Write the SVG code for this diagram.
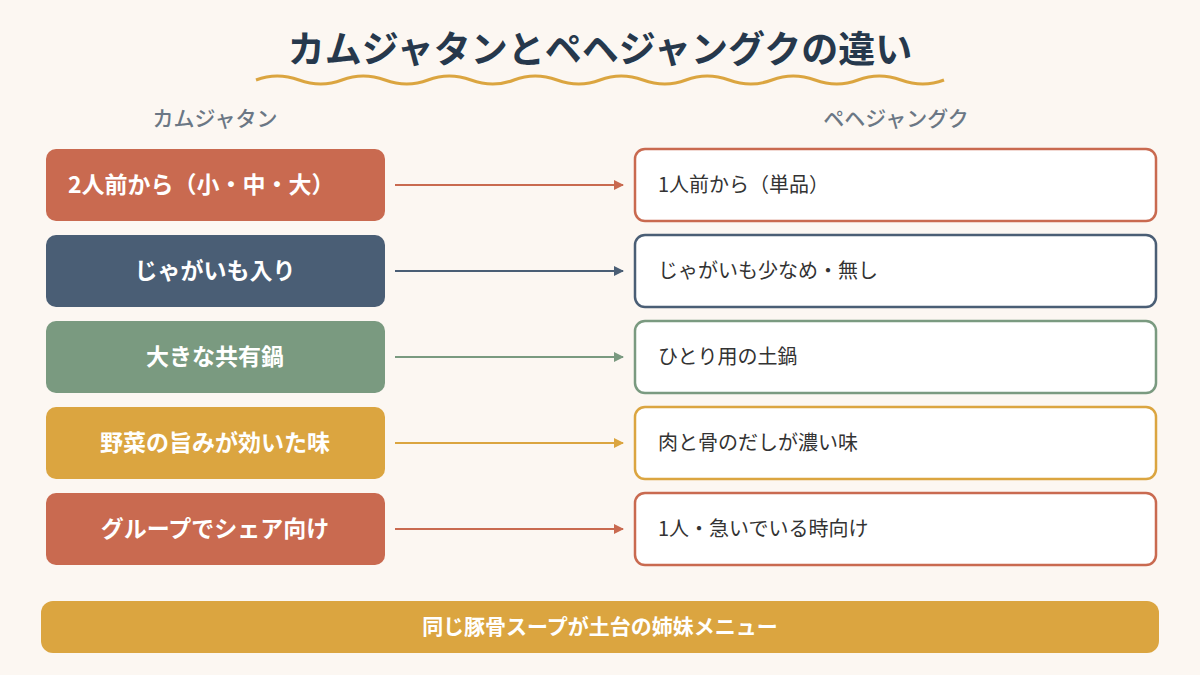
<svg xmlns="http://www.w3.org/2000/svg" width="1200" height="675" viewBox="0 0 1200 675">
<style>
text{font-family:"Noto Sans CJK JP","Noto Sans",sans-serif}
.t{font-size:37px;font-weight:700;fill:#26384c}
.h{font-size:21px;fill:#6b7785;font-weight:500}
.l{font-size:23px;font-weight:700;fill:#fff}
.r{font-size:20px;fill:#333}
.c{stroke-width:2;fill:none}
</style>
<defs>
<marker id="a1" markerWidth="10" markerHeight="10" refX="9" refY="5" orient="auto" markerUnits="userSpaceOnUse"><path d="M0,0 L10,5 L0,10Z" fill="#C96A50"/></marker>
<marker id="a2" markerWidth="10" markerHeight="10" refX="9" refY="5" orient="auto" markerUnits="userSpaceOnUse"><path d="M0,0 L10,5 L0,10Z" fill="#4A5E75"/></marker>
<marker id="a3" markerWidth="10" markerHeight="10" refX="9" refY="5" orient="auto" markerUnits="userSpaceOnUse"><path d="M0,0 L10,5 L0,10Z" fill="#7A9A80"/></marker>
<marker id="a4" markerWidth="10" markerHeight="10" refX="9" refY="5" orient="auto" markerUnits="userSpaceOnUse"><path d="M0,0 L10,5 L0,10Z" fill="#DBA540"/></marker>
</defs>
<rect width="1200" height="675" fill="#FCF7F2"/>
<text class="t" x="600" y="63" text-anchor="middle">カムジャタンとペヘジャングクの違い</text>
<path d="M256,80 q21,-8 43,0 t43,0 t43,0 t43,0 t43,0 t43,0 t43,0 t43,0 t43,0 t43,0 t43,0 t43,0 t43,0 t43,0 t43,0 t43,0" stroke="#DBA540" stroke-width="3" fill="none"/>
<text class="h" x="215" y="126" text-anchor="middle">カムジャタン</text>
<text class="h" x="896" y="126" text-anchor="middle">ペヘジャングク</text>
<g id="connectors">
<line class="c" x1="395" y1="185" x2="623" y2="185" stroke="#C96A50" marker-end="url(#a1)"/>
<line class="c" x1="395" y1="271" x2="623" y2="271" stroke="#4A5E75" marker-end="url(#a2)"/>
<line class="c" x1="395" y1="357" x2="623" y2="357" stroke="#7A9A80" marker-end="url(#a3)"/>
<line class="c" x1="395" y1="443" x2="623" y2="443" stroke="#DBA540" marker-end="url(#a4)"/>
<line class="c" x1="395" y1="529" x2="623" y2="529" stroke="#C96A50" marker-end="url(#a1)"/>
</g>
<g id="l1"><rect x="46" y="149" width="339" height="72" rx="10" fill="#C96A50"/><text class="l" x="68" y="193">2人前から（小・中・大）</text></g>
<g id="l2"><rect x="46" y="235" width="339" height="72" rx="10" fill="#4A5E75"/><text class="l" x="215" y="279" text-anchor="middle">じゃがいも入り</text></g>
<g id="l3"><rect x="46" y="321" width="339" height="72" rx="10" fill="#7A9A80"/><text class="l" x="215" y="365" text-anchor="middle">大きな共有鍋</text></g>
<g id="l4"><rect x="46" y="407" width="339" height="72" rx="10" fill="#DBA540"/><text class="l" x="215" y="451" text-anchor="middle">野菜の旨みが効いた味</text></g>
<g id="l5"><rect x="46" y="493" width="339" height="72" rx="10" fill="#C96A50"/><text class="l" x="215" y="537" text-anchor="middle">グループでシェア向け</text></g>
<g id="r1"><rect x="635" y="149" width="521" height="72" rx="10" fill="#fff" stroke="#C96A50" stroke-width="2.5"/><text class="r" x="658" y="192">1人前から（単品）</text></g>
<g id="r2"><rect x="635" y="235" width="521" height="72" rx="10" fill="#fff" stroke="#4A5E75" stroke-width="2.5"/><text class="r" x="658" y="278">じゃがいも少なめ・無し</text></g>
<g id="r3"><rect x="635" y="321" width="521" height="72" rx="10" fill="#fff" stroke="#7A9A80" stroke-width="2.5"/><text class="r" x="658" y="364">ひとり用の土鍋</text></g>
<g id="r4"><rect x="635" y="407" width="521" height="72" rx="10" fill="#fff" stroke="#DBA540" stroke-width="2.5"/><text class="r" x="658" y="450">肉と骨のだしが濃い味</text></g>
<g id="r5"><rect x="635" y="493" width="521" height="72" rx="10" fill="#fff" stroke="#C96A50" stroke-width="2.5"/><text class="r" x="658" y="536">1人・急いでいる時向け</text></g>
<g id="bottom"><rect x="41" y="601" width="1118" height="52" rx="12" fill="#DBA540"/><text x="600" y="634" text-anchor="middle" style="font-size:21px;font-weight:700;fill:#fff">同じ豚骨スープが土台の姉妹メニュー</text></g>
</svg>
